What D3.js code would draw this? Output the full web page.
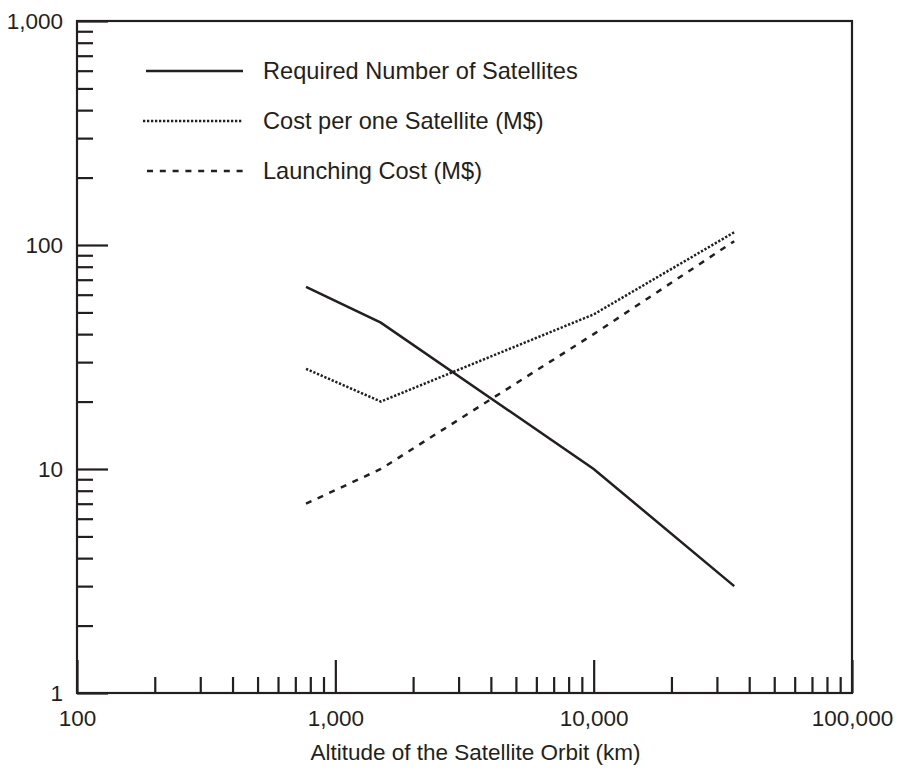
<!DOCTYPE html>
<html>
<head>
<meta charset="utf-8">
<script src="https://cdn.jsdelivr.net/npm/d3@7"></script>
<style>
  body { margin: 0; background: #fff; }
  text { font-family: "Liberation Sans", Arial, Helvetica, sans-serif; fill: #231f20; }
</style>
</head>
<body>
<script>
// altitudes (km) and the three series
let altitudes = [770, 1500, 10000, 35000];
let satellitesNeeded = [65, 45, 10, 3];
let costPerSatellite = [28, 20, 49, 114];
let launchCost = [7, 10, 40, 104];

let seriesNames = ['Required Number of Satellites', 'Cost per one Satellite (M$)', 'Launching Cost (M$)'];
let xMajor = [100, 1000, 10000, 100000];
let yMajor = [1, 10, 100, 1000];
let xTitle = 'Altitude of the Satellite Orbit (km)';

let series = [
  {name: seriesNames[0], values: satellitesNeeded, dash: null, x1: 146},
  {name: seriesNames[1], values: costPerSatellite, dash: '2.3,1.7', x1: 143},
  {name: seriesNames[2], values: launchCost, dash: '6,6.8', x1: 147}
];

let ink = '#231f20';
let svg = d3.select('body').append('svg').attr('width', 900).attr('height', 771);

let x = d3.scaleLog().domain([100, 100000]).range([77, 852]);
let y = d3.scaleLog().domain([1, 1000]).range([693, 21]);

// minor ticks 2..9 in every decade
let minorOf = function(major) {
  let out = [];
  for (let i = 0; i < major.length - 1; i++) {
    for (let k = 2; k <= 9; k++) out.push(major[i] * k);
  }
  return out;
};

let fmt = d3.format(',');

// x axis, ticks pointing inward
svg.append('g').attr('transform', 'translate(0,693)')
  .call(d3.axisBottom(x).tickValues(minorOf(xMajor)).tickSize(-16).tickFormat(''));
svg.append('g').attr('transform', 'translate(0,693)')
  .call(d3.axisBottom(x).tickValues(xMajor).tickSizeInner(-33).tickSizeOuter(0).tickPadding(17).tickFormat(fmt));

svg.append('g').attr('transform', 'translate(77,0)')
  .call(d3.axisLeft(y).tickValues(minorOf(yMajor)).tickSize(-16).tickFormat(''));
svg.append('g').attr('transform', 'translate(77,0)')
  .call(d3.axisLeft(y).tickValues(yMajor).tickSizeInner(-31).tickSizeOuter(0).tickPadding(14).tickFormat(fmt));

svg.selectAll('.domain').remove();
svg.selectAll('.tick line').attr('stroke', ink).attr('stroke-width', 2.2);
svg.selectAll('.tick text').attr('font-size', '22.5px').attr('fill', ink)
  .style('font-family', '"Liberation Sans", Arial, sans-serif');

// frame
svg.append('rect')
  .attr('x', x(100)).attr('y', y(1000))
  .attr('width', x(100000) - x(100)).attr('height', y(1) - y(1000))
  .attr('fill', 'none').attr('stroke', ink).attr('stroke-width', 2.2);

// axis title
svg.append('text')
  .attr('x', (x(100) + x(100000)) / 2 + 11).attr('y', 760)
  .attr('text-anchor', 'middle').attr('font-size', '22.5px')
  .text(xTitle);

// lines
let line = d3.line()
  .x(function(d) { return x(d[0]); })
  .y(function(d) { return y(d[1]); });

svg.selectAll('path.series').data(series).enter().append('path')
  .attr('class', 'series')
  .attr('d', function(s) { return line(altitudes.map(function(a, i) { return [a, s.values[i]]; })); })
  .attr('fill', 'none')
  .attr('stroke', ink)
  .attr('stroke-width', 2.5)
  .attr('stroke-dasharray', function(s) { return s.dash; });

// legend
let legend = svg.selectAll('g.legend').data(series).enter().append('g')
  .attr('class', 'legend')
  .attr('transform', function(d, i) { return 'translate(0,' + (71 + i * 50) + ')'; });

legend.append('line')
  .attr('x1', function(d) { return d.x1; }).attr('x2', 243).attr('y1', 0).attr('y2', 0)
  .attr('stroke', ink).attr('stroke-width', 2.5)
  .attr('stroke-dasharray', function(d) { return d.dash; });

legend.append('text')
  .attr('x', 263).attr('y', 0).attr('dy', '0.35em')
  .attr('font-size', '23.6px')
  .text(function(d) { return d.name; });
</script>
</body>
</html>
